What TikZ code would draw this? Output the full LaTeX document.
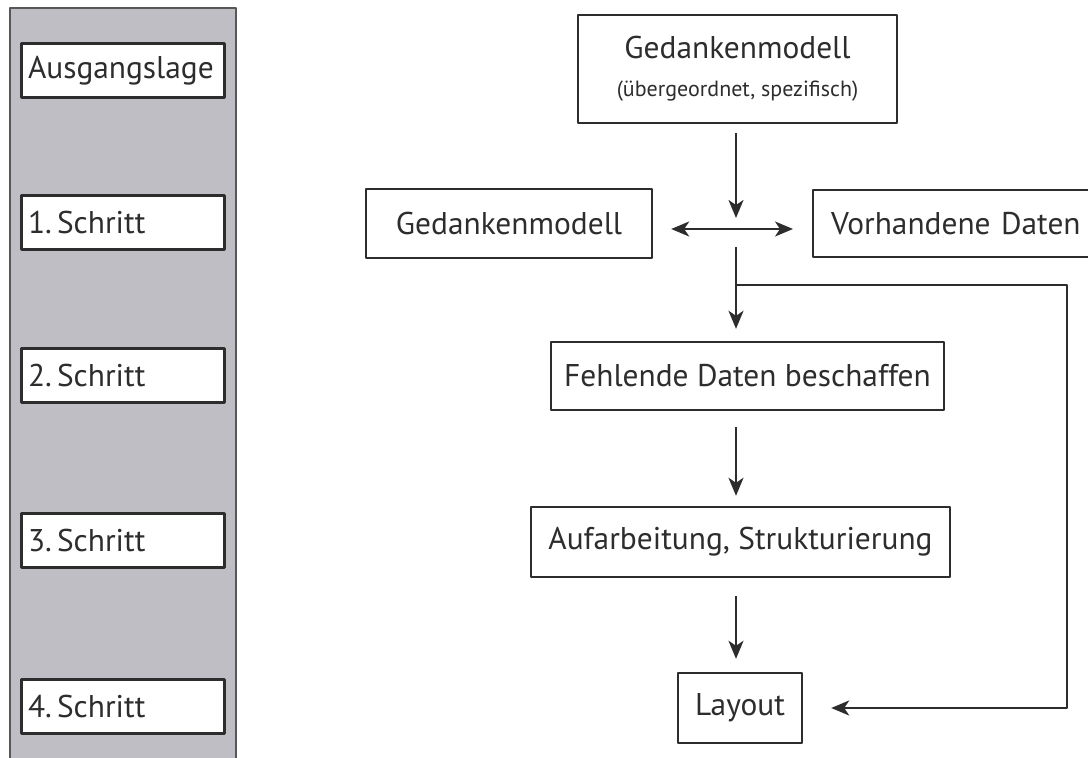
\documentclass[tikz,border=0pt]{standalone}
\usepackage{fontspec}
\setmainfont{PT Sans}
\usetikzlibrary{arrows.meta}
\definecolor{panelgrau}{RGB}{190,190,196}
\definecolor{linie}{RGB}{45,45,45}
\begin{document}
\begin{tikzpicture}[>={Stealth[length=9pt,width=7.5pt,inset=2.5pt]},line join=round,x=0.5pt,y=-0.5pt,font=\fontsize{15.7}{18}\selectfont,
	kasten/.style={draw=linie,line width=1.2pt,fill=white,text=linie,inner sep=3.5pt,minimum height=34pt},
	schritt/.style={kasten,line width=1.5pt,text width=94.5pt,align=left,minimum height=27pt},
	pfeil/.style={line width=1.1pt,draw=linie}]
			\useasboundingbox (0,0) rectangle (1088,758);
			% linke Leiste
			\fill[panelgrau,draw=linie!80,line width=1pt] (10,8) rectangle (236,775);
			\node[schritt] (ausgang) at (122.5,70.5) {Ausgangslage};
			\node[schritt] (schritt1) at (122.5,223) {1.\,Schritt};
			\node[schritt] (schritt2) at (122.5,376) {2.\,Schritt};
			\node[schritt] (schritt3) at (122.5,541) {3.\,Schritt};
			\node[schritt] (schritt4) at (122.5,706.5) {4.\,Schritt};
			% Ablauf
			\node[kasten,minimum width=159.5pt,minimum height=54pt,align=center] (oben) at (737.5,69)
			{Gedankenmodell\\[1pt]{\fontsize{11}{12}\selectfont(übergeordnet, spezifisch)}};
			\node[kasten,minimum width=143pt,minimum height=34.5pt] (gedanke) at (509,223.5) {Gedankenmodell};
			\node[kasten,anchor=west,inner xsep=9pt,text width=130pt,align=left,minimum height=33.5pt] (vorhanden) at (812,223.5) {Vorhandene Daten};
			\node[kasten,minimum width=196.5pt] (fehlend) at (747.5,376) {Fehlende Daten beschaffen};
			\node[kasten,minimum width=209.5pt,minimum height=35pt] (aufarb) at (740.5,542) {Aufarbeitung, Strukturierung};
			\node[kasten,minimum width=62pt,minimum height=35pt] (layout) at (740,708) {Layout};
			\coordinate (mitte) at (736,229);
			\coordinate (abzweig) at (736,285);
			\coordinate (ecke) at (1067,285);
			\draw[pfeil,->,shorten <=4.5pt,shorten >=5.5pt] (oben.south -| mitte) -- (mitte);
			\draw[pfeil,<->,shorten <=9pt,shorten >=9.5pt] (gedanke.east |- mitte) -- (vorhanden.west |- mitte);
			\draw[pfeil,->,shorten <=9pt,shorten >=6pt] (mitte) -- (fehlend.north -| mitte);
			\draw[pfeil,->,shorten >=14pt] (abzweig) -- (ecke) |- (layout.east);
			\draw[pfeil,->,shorten <=8pt,shorten >=5pt] (fehlend.south -| mitte) -- (aufarb.north -| mitte);
			\draw[pfeil,->,shorten <=9pt,shorten >=6.5pt] (aufarb.south -| mitte) -- (layout.north -| mitte);
	\end{tikzpicture}
\end{document}
